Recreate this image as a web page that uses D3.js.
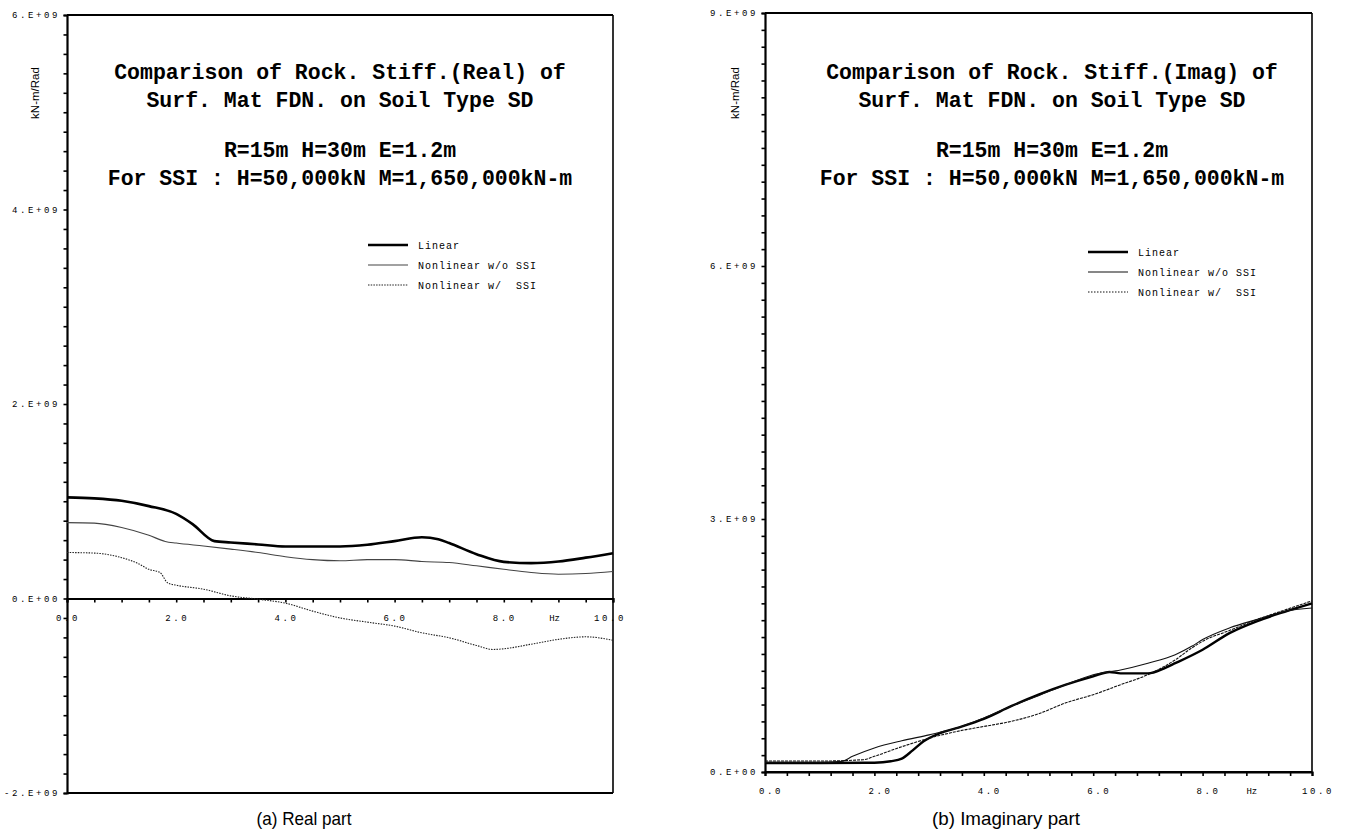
<!DOCTYPE html>
<html>
<head>
<meta charset="utf-8">
<script src="https://cdn.jsdelivr.net/npm/d3@7"></script>
<style>
  html, body { margin: 0; padding: 0; background: #fff; }
  svg { display: block; }
</style>
</head>
<body>
<script>
// ---------- DATA (values in units of 1E9 kN-m/Rad, frequency in Hz) ----------
// (a) Real part
const realLinearF = [0, 0.5, 1, 1.5, 2, 2.3, 2.7, 3, 3.5, 4, 4.5, 5, 5.5, 6, 6.5, 6.8, 7, 7.5, 8, 8.5, 9, 9.5, 10];
const realLinearV = [1.04, 1.03, 1.005, 0.95, 0.87, 0.765, 0.59, 0.576, 0.556, 0.535, 0.535, 0.535, 0.552, 0.59, 0.63, 0.61, 0.57, 0.456, 0.377, 0.364, 0.38, 0.42, 0.466];
const realNoSsiF = [0, 0.5, 1, 1.5, 1.8, 2, 2.5, 3, 3.5, 4, 4.5, 5, 5.5, 6, 6.5, 7, 7.5, 8, 8.5, 9, 9.5, 10];
const realNoSsiV = [0.78, 0.775, 0.73, 0.65, 0.587, 0.57, 0.54, 0.508, 0.473, 0.43, 0.40, 0.388, 0.40, 0.40, 0.38, 0.37, 0.336, 0.30, 0.268, 0.25, 0.257, 0.278];
const realSsiF = [0, 0.5, 1, 1.3, 1.5, 1.7, 1.85, 2, 2.5, 3, 3.5, 4, 4.5, 5, 5.5, 6, 6.5, 7, 7.5, 7.8, 8, 8.5, 9, 9.5, 10];
const realSsiV = [0.473, 0.467, 0.42, 0.36, 0.30, 0.268, 0.158, 0.137, 0.096, 0.027, -0.007, -0.048, -0.13, -0.2, -0.243, -0.284, -0.353, -0.404, -0.483, -0.524, -0.517, -0.47, -0.42, -0.394, -0.43];

// (b) Imaginary part
const imagLinearF = [0, 1, 2, 2.3, 2.5, 2.7, 2.9, 3.2, 3.5, 4, 4.5, 5, 5.5, 6, 6.3, 6.5, 7, 7.3, 7.5, 8, 8.5, 9, 9.5, 10];
const imagLinearV = [0.107, 0.107, 0.11, 0.127, 0.158, 0.257, 0.364, 0.46, 0.52, 0.63, 0.78, 0.917, 1.035, 1.134, 1.186, 1.17, 1.17, 1.23, 1.29, 1.45, 1.65, 1.79, 1.9, 2.0];
const imagNoSsiF = [0, 1, 1.4, 1.6, 2, 2.5, 3, 3.5, 4, 4.5, 5, 5.5, 6, 6.5, 7, 7.5, 7.8, 8, 8.5, 9, 9.5, 10];
const imagNoSsiV = [0.115, 0.115, 0.126, 0.186, 0.285, 0.37, 0.44, 0.52, 0.64, 0.78, 0.905, 1.035, 1.154, 1.21, 1.29, 1.39, 1.49, 1.57, 1.71, 1.81, 1.905, 1.945];
const imagSsiF = [0, 1, 1.8, 2, 2.5, 3, 3.5, 4, 4.5, 5, 5.5, 6, 6.5, 7, 7.5, 7.8, 8, 8.5, 9, 9.5, 10];
const imagSsiV = [0.13, 0.13, 0.146, 0.186, 0.30, 0.40, 0.48, 0.54, 0.60, 0.69, 0.82, 0.917, 1.035, 1.154, 1.33, 1.47, 1.55, 1.68, 1.81, 1.92, 2.03];

// tick labels
const realYTicks = [6, 4, 2, 0, -2];
const realYLabels = ["6.E+09", "4.E+09", "2.E+09", "0.E+00", "-2.E+09"];
const imagYTicks = [9, 6, 3, 0];
const imagYLabels = ["9.E+09", "6.E+09", "3.E+09", "0.E+00"];
const xTicks = [0, 2, 4, 6, 8, 10];
const xLabels = ["0.0", "2.0", "4.0", "6.0", "8.0", "10.0"];

const seriesNames = ["Linear", "Nonlinear w/o SSI", "Nonlinear w/  SSI"];
const titleReal = ["Comparison of Rock. Stiff.(Real) of", "Surf. Mat FDN. on Soil Type SD", "R=15m H=30m E=1.2m", "For SSI : H=50,000kN M=1,650,000kN-m"];
const titleImag = ["Comparison of Rock. Stiff.(Imag) of", "Surf. Mat FDN. on Soil Type SD", "R=15m H=30m E=1.2m", "For SSI : H=50,000kN M=1,650,000kN-m"];
const captions = ["(a) Real part", "(b) Imaginary part"];
const yUnit = "kN-m/Rad";

// ---------- DRAWING ----------
const W = 1346, H = 832;
const svg = d3.select("body").append("svg").attr("width", W).attr("height", H);
const mono = "'Courier New', 'Liberation Mono', monospace";

function zip(f, v) { return f.map((d, i) => [d, v[i]]); }

function drawPanel(cfg) {
  const x = d3.scaleLinear().domain([0, 10]).range([cfg.left, cfg.right]);
  const y = d3.scaleLinear().domain(cfg.yDomain).range([cfg.bottom, cfg.top]);
  const g = svg.append("g");

  // frame
  g.append("line").attr("x1", cfg.left).attr("x2", cfg.right).attr("y1", cfg.top).attr("y2", cfg.top)
    .attr("stroke", "#000").attr("stroke-width", 2);
  g.append("line").attr("x1", cfg.left).attr("x2", cfg.right).attr("y1", cfg.bottom).attr("y2", cfg.bottom)
    .attr("stroke", "#000").attr("stroke-width", 2);
  g.append("line").attr("x1", cfg.right).attr("x2", cfg.right).attr("y1", cfg.top).attr("y2", cfg.bottom)
    .attr("stroke", "#000").attr("stroke-width", 1.6);

  // y axis with minor ticks every 0.2
  const yMinor = d3.range(Math.round(cfg.yDomain[0] * 5), Math.round(cfg.yDomain[1] * 5) + 1).map(d => d / 5);
  const yAxis = d3.axisLeft(y).tickValues(yMinor).tickSize(3.5).tickFormat("");
  const ya = g.append("g").attr("transform", `translate(${cfg.left},0)`).call(yAxis);
  ya.select(".domain").attr("stroke-width", 2.2);
  ya.selectAll(".tick line").attr("stroke-width", 1.6);

  // y tick labels
  g.selectAll(".ylab").data(cfg.yTicks).enter().append("text")
    .attr("x", cfg.left - 7).attr("y", d => y(d)).attr("dy", "0.35em")
    .attr("text-anchor", "end").attr("font-family", mono).attr("font-size", 9)
    .attr("letter-spacing", 2.6)
    .text((d, i) => cfg.yLabels[i]);

  // y unit
  g.append("text").attr("transform", `translate(${cfg.unitX},${cfg.unitY}) rotate(-90)`)
    .attr("text-anchor", "middle").attr("dy", "0.35em")
    .attr("font-family", "'Liberation Sans', Arial, sans-serif").attr("font-size", 11.5)
    .text(yUnit);

  // x axis at zero with minor ticks
  const xMinor = d3.range(0, 10 + 1e-9, cfg.xStep);
  const xAxis = d3.axisBottom(x).tickValues(xMinor).tickSize(4).tickFormat("");
  const xa = g.append("g").attr("transform", `translate(0,${y(0)})`).call(xAxis);
  xa.select(".domain").attr("stroke-width", 2.2);
  xa.selectAll(".tick line").attr("stroke-width", 1.6);

  g.selectAll(".xlab").data(xTicks).enter().append("text")
    .attr("x", d => x(d) + cfg.labShift + (d === 10 ? cfg.lastOff : 0)).attr("y", y(0) + cfg.xLabOff).attr("dy", "0.35em")
    .attr("text-anchor", "middle").attr("font-family", mono).attr("font-size", 9)
    .attr("letter-spacing", 2.6)
    .text((d, i) => xLabels[i]);
  g.append("text").attr("x", x(cfg.hzAt)).attr("y", y(0) + cfg.xLabOff).attr("dy", "0.35em")
    .attr("text-anchor", "middle").attr("font-family", mono).attr("font-size", 9)
    .text("Hz");

  // titles
  g.selectAll(".title").data(cfg.title).enter().append("text")
    .attr("x", cfg.titleX).attr("y", (d, i) => cfg.titleY[i]).attr("dy", "0.35em")
    .attr("text-anchor", "middle").attr("font-family", mono).attr("font-weight", "bold")
    .attr("font-size", 21.5).attr("xml:space", "preserve")
    .text(d => d);

  // curves
  const line = d3.line().x(d => x(d[0])).y(d => y(d[1])).curve(d3.curveMonotoneX);
  const styles = cfg.styles;
  cfg.series.forEach((s, i) => {
    g.append("path").datum(s).attr("d", line).attr("fill", "none")
      .attr("stroke", styles[i].color).attr("stroke-width", styles[i].width)
      .attr("stroke-dasharray", styles[i].dash || null);
  });

  // legend
  seriesNames.forEach((n, i) => {
    const ly = cfg.legY + i * cfg.legStep;
    g.append("line").attr("x1", cfg.legX).attr("x2", cfg.legX + 40).attr("y1", ly).attr("y2", ly)
      .attr("stroke", styles[i].color).attr("stroke-width", styles[i].width)
      .attr("stroke-dasharray", styles[i].legDash || styles[i].dash || null);
    g.append("text").attr("x", cfg.legX + 50).attr("y", ly).attr("dy", "0.35em")
      .attr("font-family", mono).attr("font-size", 10).attr("letter-spacing", 1)
      .attr("xml:space", "preserve").text(n);
  });

  // caption
  g.append("text").attr("x", cfg.capX).attr("y", 818).attr("dy", "0.35em")
    .attr("text-anchor", "middle")
    .attr("font-family", "'Liberation Sans Narrow', 'Liberation Sans', Arial, sans-serif")
    .attr("font-size", 19).attr("textLength", cfg.capLen).attr("lengthAdjust", "spacingAndGlyphs")
    .text(cfg.caption);
}

drawPanel({
  left: 67, right: 613, top: 15, bottom: 793, yDomain: [-2, 6],
  yTicks: realYTicks, yLabels: realYLabels, unitX: 35, unitY: 93,
  xStep: 0.5, xLabOff: 19, labShift: 1, lastOff: -4, hzAt: 8.93,
  title: titleReal, titleX: 340, titleY: [71, 99, 149, 177],
  series: [zip(realLinearF, realLinearV), zip(realNoSsiF, realNoSsiV), zip(realSsiF, realSsiV)],
  styles: [
    { color: "#000", width: 2.6 },
    { color: "#444", width: 1.1 },
    { color: "#222", width: 1.1, dash: "1.5,1.2" }
  ],
  legX: 368, legY: 245, legStep: 20,
  capX: 304, capLen: 95, caption: captions[0]
});

drawPanel({
  left: 765, right: 1312, top: 13, bottom: 772, yDomain: [0, 9],
  yTicks: imagYTicks, yLabels: imagYLabels, unitX: 735, unitY: 93,
  xStep: 0.4, xLabOff: 19, labShift: 6, lastOff: 0, hzAt: 8.9,
  title: titleImag, titleX: 1052, titleY: [71, 99, 149, 177],
  series: [zip(imagLinearF, imagLinearV), zip(imagNoSsiF, imagNoSsiV), zip(imagSsiF, imagSsiV)],
  styles: [
    { color: "#000", width: 2.4 },
    { color: "#111", width: 1.1 },
    { color: "#111", width: 1.1, dash: "3,1", legDash: "1.5,1.5" }
  ],
  legX: 1088, legY: 252, legStep: 20,
  capX: 1006, capLen: 148, caption: captions[1]
});
</script>
</body>
</html>
